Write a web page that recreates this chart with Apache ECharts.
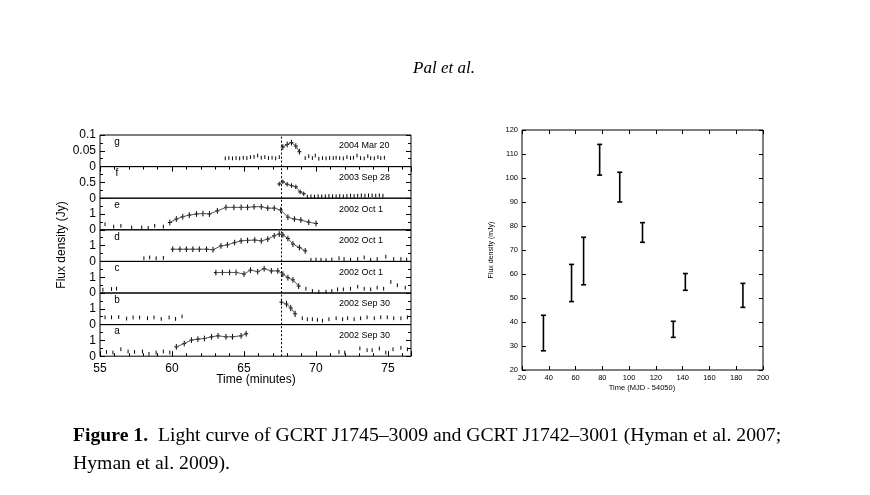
<!DOCTYPE html>
<html><head><meta charset="utf-8">
<script src="https://cdn.jsdelivr.net/npm/echarts@6/dist/echarts.min.js"></script>
<style>html,body{margin:0;padding:0;background:#fff}#c{width:870px;height:495px}</style>
</head><body><div id="c"></div><script>
// ---------- Left figure: GCRT J1745-3009 light curves (Jy vs minutes) ----------
const flareT = 67.6;
// panel g: 2004 Mar 20
const gUlT = [63.7,63.95,64.2,64.45,64.7,64.95,65.2,65.45,65.7,65.95,66.2,66.45,66.7,66.95,67.2,67.45,
  69.25,69.5,69.75,69.95,70.2,70.45,70.7,70.95,71.2,71.4,71.65,71.9,72.15,72.4,72.6,72.85,73.1,73.35,73.6,73.8,74.05,74.3,74.5,74.75];
const gUlV = [0.026,0.027,0.026,0.027,0.026,0.028,0.027,0.03,0.031,0.035,0.028,0.03,0.027,0.028,0.026,0.03,
  0.027,0.033,0.027,0.035,0.025,0.027,0.026,0.027,0.027,0.028,0.027,0.026,0.03,0.027,0.028,0.035,0.027,0.026,0.033,0.027,0.026,0.03,0.027,0.028];
const gDetT = [67.7,68.0,68.3,68.6,68.85];
const gDetV = [0.062,0.07,0.076,0.065,0.047];
// panel f: 2003 Sep 28
const fUlT = [69.4,69.65,69.9,70.15,70.4,70.65,70.9,71.15,71.4,71.65,71.9,72.15,72.4,72.65,72.9,73.15,73.4,73.65,73.9,74.15,74.4,74.65];
const fUlV = [0.05,0.06,0.05,0.06,0.06,0.06,0.07,0.06,0.06,0.07,0.06,0.07,0.08,0.07,0.08,0.09,0.08,0.09,0.09,0.08,0.09,0.08];
const fDetT = [67.45,67.7,68.0,68.3,68.6,68.9,69.15];
const fDetV = [0.45,0.52,0.44,0.40,0.36,0.20,0.14];
// panel e: 2002 Oct 1
const eUlT = [55.35,55.95,56.45,57.2,57.9,58.35,58.8,59.4];
const eUlV = [0.35,0.2,0.25,0.15,0.15,0.12,0.25,0.2];
const eDetT = [59.85,60.3,60.75,61.2,61.7,62.15,62.6,63.15,63.75,64.3,64.8,65.25,65.7,66.2,66.65,67.1,67.55,68.05,68.5,68.95,69.5,70.0];
const eDetV = [0.46,0.68,0.83,0.93,1.0,1.03,1.0,1.2,1.42,1.42,1.42,1.42,1.46,1.46,1.37,1.37,1.25,0.8,0.68,0.62,0.48,0.4];
// panel d: 2002 Oct 1
const dUlT = [58.05,58.45,58.9,59.4,69.65,70.0,70.35,70.7,71.1,71.6,71.95,72.4,72.9,73.35,73.8,74.25,74.85,75.4,75.9,76.3];
const dUlV = [0.2,0.25,0.2,0.22,0.1,0.12,0.1,0.08,0.12,0.2,0.15,0.1,0.15,0.25,0.1,0.15,0.3,0.15,0.15,0.12];
const dDetT = [60.05,60.55,61.0,61.45,61.9,62.4,62.85,63.4,63.85,64.35,64.8,65.25,65.75,66.2,66.65,67.1,67.45,67.7,68.05,68.4,68.85,69.25];
const dDetV = [0.77,0.77,0.77,0.77,0.77,0.77,0.74,0.98,1.05,1.19,1.3,1.33,1.35,1.3,1.41,1.62,1.73,1.68,1.45,1.1,0.88,0.67];
// panel c: 2002 Oct 1
const cUlT = [55.2,55.8,56.15,69.3,69.75,70.2,70.7,71.1,71.5,71.9,72.4,72.9,73.35,73.8,74.25,74.7,75.2,75.65,76.2];
const cUlV = [0.2,0.25,0.28,0.27,0.13,0.08,0.08,0.13,0.23,0.23,0.27,0.4,0.27,0.23,0.34,0.27,0.7,0.49,0.34];
const cDetT = [63.05,63.5,64.0,64.45,65.0,65.45,65.95,66.4,66.9,67.35,67.7,68.05,68.4,68.8];
const cDetV = [1.29,1.3,1.3,1.3,1.2,1.45,1.35,1.54,1.4,1.4,1.19,0.97,0.83,0.44];
// panel b: 2002 Sep 30
const bUlT = [55.35,55.8,56.3,56.85,57.3,57.75,58.3,58.75,59.25,59.8,60.25,60.7,
  69.05,69.4,69.75,70.1,70.45,70.9,71.4,71.85,72.2,72.65,73.1,73.55,74.05,74.5,74.95,75.4,75.9,76.35];
const bUlV = [0.46,0.46,0.48,0.38,0.45,0.45,0.4,0.45,0.36,0.45,0.36,0.52,
  0.4,0.34,0.34,0.3,0.25,0.34,0.4,0.34,0.4,0.34,0.4,0.46,0.4,0.46,0.46,0.4,0.4,0.46];
const bDetT = [67.6,67.95,68.25,68.55];
const bDetV = [1.42,1.3,1.05,0.68];
// panel a: 2002 Sep 30
const aUlT = [55.45,55.9,56.45,56.95,57.4,57.95,58.4,58.9,59.4,59.85,71.6,72.0,73.05,73.55,73.9,74.4,74.85,75.35,75.9,76.35];
const aUlV = [0.27,0.23,0.44,0.3,0.27,0.3,0.15,0.23,0.3,0.23,0.27,0.23,0.49,0.38,0.38,0.49,0.23,0.44,0.53,0.44];
const aDetT = [60.3,60.85,61.35,61.8,62.25,62.75,63.2,63.75,64.2,64.8,65.15];
const aDetV = [0.59,0.8,1.02,1.08,1.12,1.23,1.29,1.23,1.23,1.29,1.42];

const panelLetters = ['g','f','e','d','c','b','a'];
const panelDates = ['2004 Mar 20','2003 Sep 28','2002 Oct 1','2002 Oct 1','2002 Oct 1','2002 Sep 30','2002 Sep 30'];
const xTickLabels = [55,60,65,70,75];

// ---------- Right figure: GCRT J1742-3001 (mJy vs MJD-54050) ----------
const rT  = [36, 57, 66, 78, 93, 110, 133, 142, 185];
const rLo = [28, 48.5, 55.5, 101.2, 90, 73.2, 33.6, 53.2, 46.1];
const rHi = [42.8, 64, 75.3, 114, 102.4, 81.4, 40.3, 60.2, 56.1];

// ---------- layout ----------
const LX = 100, LW = 311, LTOP = 135, PH = 31.6;
const XMIN = 55, XMAX = 76.6;
const panels = [
  {ymax:0.1, major:0.05, labels:[0,0.05,0.1], ulT:gUlT, ulV:gUlV, ulE:0.006, detT:gDetT, detV:gDetV, detE:0.009},
  {ymax:1, major:0.5, labels:[0,0.5], ulT:fUlT, ulV:fUlV, ulE:0.06, detT:fDetT, detV:fDetV, detE:0.07},
  {ymax:2, major:1, labels:[0,1], ulT:eUlT, ulV:eUlV, ulE:0.12, detT:eDetT, detV:eDetV, detE:0.18},
  {ymax:2, major:1, labels:[0,1], ulT:dUlT, ulV:dUlV, ulE:0.12, detT:dDetT, detV:dDetV, detE:0.18},
  {ymax:2, major:1, labels:[0,1], ulT:cUlT, ulV:cUlV, ulE:0.12, detT:cDetT, detV:cDetV, detE:0.18},
  {ymax:2, major:1, labels:[0,1], ulT:bUlT, ulV:bUlV, ulE:0.12, detT:bDetT, detV:bDetV, detE:0.2},
  {ymax:2, major:1, labels:[0,1], ulT:aUlT, ulV:aUlV, ulE:0.12, detT:aDetT, detV:aDetV, detE:0.18}
];

function errRender(dx, cap, w) {
  return function (params, api) {
    const x = api.value(0), y = api.value(1), e = api.value(2);
    const p0 = api.coord([x, y - e]), p1 = api.coord([x, y + e]);
    const st = {stroke:'#000', lineWidth:w};
    const ch = [{type:'line', shape:{x1:p0[0], y1:p0[1], x2:p1[0], y2:p1[1]}, style:st}];
    if (dx > 0) {
      const a = api.coord([x - dx, y]), b = api.coord([x + dx, y]);
      ch.push({type:'line', shape:{x1:a[0], y1:a[1], x2:b[0], y2:b[1]}, style:st});
    }
    if (cap > 0) {
      ch.push({type:'line', shape:{x1:p0[0]-cap, y1:p0[1], x2:p0[0]+cap, y2:p0[1]}, style:st});
      ch.push({type:'line', shape:{x1:p1[0]-cap, y1:p1[1], x2:p1[0]+cap, y2:p1[1]}, style:st});
    }
    return {type:'group', children:ch};
  };
}

const grid = [], xAxis = [], yAxis = [], series = [], graphic = [];
const FONT = 'Liberation Sans';
panels.forEach((p, i) => {
  const top = LTOP + i * PH;
  grid.push({left:LX, width:LW, top:top, height:PH, show:true, borderColor:'#000', borderWidth:1, backgroundColor:'transparent'});
  const last = i === panels.length - 1;
  xAxis.push({type:'value', gridIndex:i, min:XMIN, max:XMAX, interval:5, position:'bottom',
    axisLine:{show:false}, splitLine:{show:false},
    axisTick:{show:last, inside:true, length:5, lineStyle:{color:'#000'}},
    minorTick:{show:last, splitNumber:5, length:3, lineStyle:{color:'#000'}},
    axisLabel:{show:last, margin:6, fontSize:12, fontFamily:FONT, color:'#000',
      formatter: v => xTickLabels.indexOf(Math.round(v*100)/100) >= 0 ? String(v) : ''}});
  yAxis.push({type:'value', gridIndex:i, min:0, max:p.ymax, interval:p.major, position:'left',
    axisLine:{show:false}, splitLine:{show:false},
    axisTick:{show:true, inside:true, length:5, lineStyle:{color:'#000'}},
    minorTick:{show:true, splitNumber:2, length:3, lineStyle:{color:'#000'}},
    axisLabel:{margin:4, fontSize:12, fontFamily:FONT, color:'#000',
      formatter: v => p.labels.some(l => Math.abs(l - v) < 1e-9) ? String(+v.toFixed(2)) : ''}});
  yAxis.push({type:'value', gridIndex:i, min:0, max:p.ymax, interval:p.major, position:'right',
    axisLine:{show:false}, splitLine:{show:false}, axisLabel:{show:false},
    axisTick:{show:true, inside:true, length:5, lineStyle:{color:'#000'}},
    minorTick:{show:true, splitNumber:2, length:3, lineStyle:{color:'#000'}}});
  const yi = 2 * i;
  series.push({type:'line', xAxisIndex:i, yAxisIndex:yi, showSymbol:false, silent:true, animation:false,
    data:p.detT.map((t, k) => [t, p.detV[k]]), lineStyle:{color:'#555', width:1},
    markLine:{symbol:'none', silent:true, animation:false, label:{show:false},
      lineStyle:{type:[2,2], color:'#000', width:1}, data:[{xAxis:flareT}]}});
  series.push({type:'custom', xAxisIndex:i, yAxisIndex:yi, animation:false, silent:true,
    renderItem: errRender(0.14, 0, 1), encode:{x:0, y:1},
    data:p.detT.map((t, k) => [t, p.detV[k], p.detE])});
  series.push({type:'custom', xAxisIndex:i, yAxisIndex:yi, animation:false, silent:true,
    renderItem: errRender(0, 0, 1), encode:{x:0, y:1},
    data:p.ulT.map((t, k) => [t, p.ulV[k], p.ulE])});
  graphic.push({type:'text', x:117, y:top + 7, style:{text:panelLetters[i], fontSize:10, fontFamily:FONT, fill:'#000', align:'center', verticalAlign:'middle'}});
  graphic.push({type:'text', x:339, y:top + 11, style:{text:panelDates[i], fontSize:9, fontFamily:FONT, fill:'#000', align:'left', verticalAlign:'middle'}});
});
// top ticks of panel g
xAxis.push({type:'value', gridIndex:0, min:XMIN, max:XMAX, interval:5, position:'top',
  axisLine:{show:false}, splitLine:{show:false}, axisLabel:{show:false},
  axisTick:{show:true, inside:true, length:5, lineStyle:{color:'#000'}},
  minorTick:{show:true, splitNumber:5, length:3, lineStyle:{color:'#000'}}});

// right figure
const RG = panels.length;
grid.push({left:522, width:241, top:130, height:240, show:true, borderColor:'#000', borderWidth:1, backgroundColor:'transparent'});
const rxi = xAxis.length;
xAxis.push({type:'value', gridIndex:RG, min:20, max:200, interval:20, position:'bottom',
  axisLine:{show:false}, splitLine:{show:false},
  axisTick:{show:true, inside:true, length:4, lineStyle:{color:'#000'}},
  axisLabel:{margin:4, fontSize:7.5, fontFamily:FONT, color:'#000'}});
xAxis.push({type:'value', gridIndex:RG, min:20, max:200, interval:20, position:'top',
  axisLine:{show:false}, splitLine:{show:false}, axisLabel:{show:false},
  axisTick:{show:true, inside:true, length:4, lineStyle:{color:'#000'}}});
const ryi = yAxis.length;
yAxis.push({type:'value', gridIndex:RG, min:20, max:120, interval:10, position:'left',
  axisLine:{show:false}, splitLine:{show:false},
  axisTick:{show:true, inside:true, length:4, lineStyle:{color:'#000'}},
  axisLabel:{margin:4, fontSize:7.5, fontFamily:FONT, color:'#000'}});
yAxis.push({type:'value', gridIndex:RG, min:20, max:120, interval:10, position:'right',
  axisLine:{show:false}, splitLine:{show:false}, axisLabel:{show:false},
  axisTick:{show:true, inside:true, length:4, lineStyle:{color:'#000'}}});
series.push({type:'custom', xAxisIndex:rxi, yAxisIndex:ryi, animation:false, silent:true,
  renderItem: function (params, api) {
    const x = api.value(0), lo = api.value(1), hi = api.value(2);
    const p0 = api.coord([x, lo]), p1 = api.coord([x, hi]);
    const st = {stroke:'#000', lineWidth:1.6};
    return {type:'group', children:[
      {type:'line', shape:{x1:p0[0], y1:p0[1], x2:p1[0], y2:p1[1]}, style:st},
      {type:'line', shape:{x1:p0[0]-2.5, y1:p0[1], x2:p0[0]+2.5, y2:p0[1]}, style:st},
      {type:'line', shape:{x1:p1[0]-2.5, y1:p1[1], x2:p1[0]+2.5, y2:p1[1]}, style:st}]};
  }, encode:{x:0, y:[1,2]},
  data: rT.map((t, k) => [t, rLo[k], rHi[k]])});

// texts
graphic.push({type:'text', x:444, y:69, style:{text:'Pal et al.', fontSize:17, fontStyle:'italic', fontFamily:'Liberation Serif', fill:'#000', align:'center', verticalAlign:'middle'}});
graphic.push({type:'text', x:62, y:245, rotation:Math.PI/2, style:{text:'Flux density (Jy)', fontSize:12, fontFamily:FONT, fill:'#000', align:'center', verticalAlign:'middle'}});
graphic.push({type:'text', x:256, y:380, style:{text:'Time (minutes)', fontSize:12, fontFamily:FONT, fill:'#000', align:'center', verticalAlign:'middle'}});
graphic.push({type:'text', x:491, y:250, rotation:Math.PI/2, style:{text:'Flux density (mJy)', fontSize:7, fontFamily:FONT, fill:'#000', align:'center', verticalAlign:'middle'}});
graphic.push({type:'text', x:642, y:388, style:{text:'Time (MJD - 54050)', fontSize:7.5, fontFamily:FONT, fill:'#000', align:'center', verticalAlign:'middle'}});
graphic.push({type:'text', x:73, y:436, style:{
  text:'{b|Figure 1.}  Light curve of GCRT J1745\u20133009 and GCRT J1742\u20133001 (Hyman et al. 2007;',
  fontSize:19.7, fontFamily:'Liberation Serif', fill:'#000', align:'left', verticalAlign:'middle',
  rich:{b:{fontWeight:'bold', fontSize:19.7, fontFamily:'Liberation Serif', fill:'#000'}}}});
graphic.push({type:'text', x:73, y:464, style:{text:'Hyman et al. 2009).', fontSize:19.7, fontFamily:'Liberation Serif', fill:'#000', align:'left', verticalAlign:'middle'}});

const chart = echarts.init(document.getElementById('c'), null, {renderer:'canvas'});
chart.setOption({animation:false, backgroundColor:'#fff', grid, xAxis, yAxis, series, graphic});
</script></body></html>
